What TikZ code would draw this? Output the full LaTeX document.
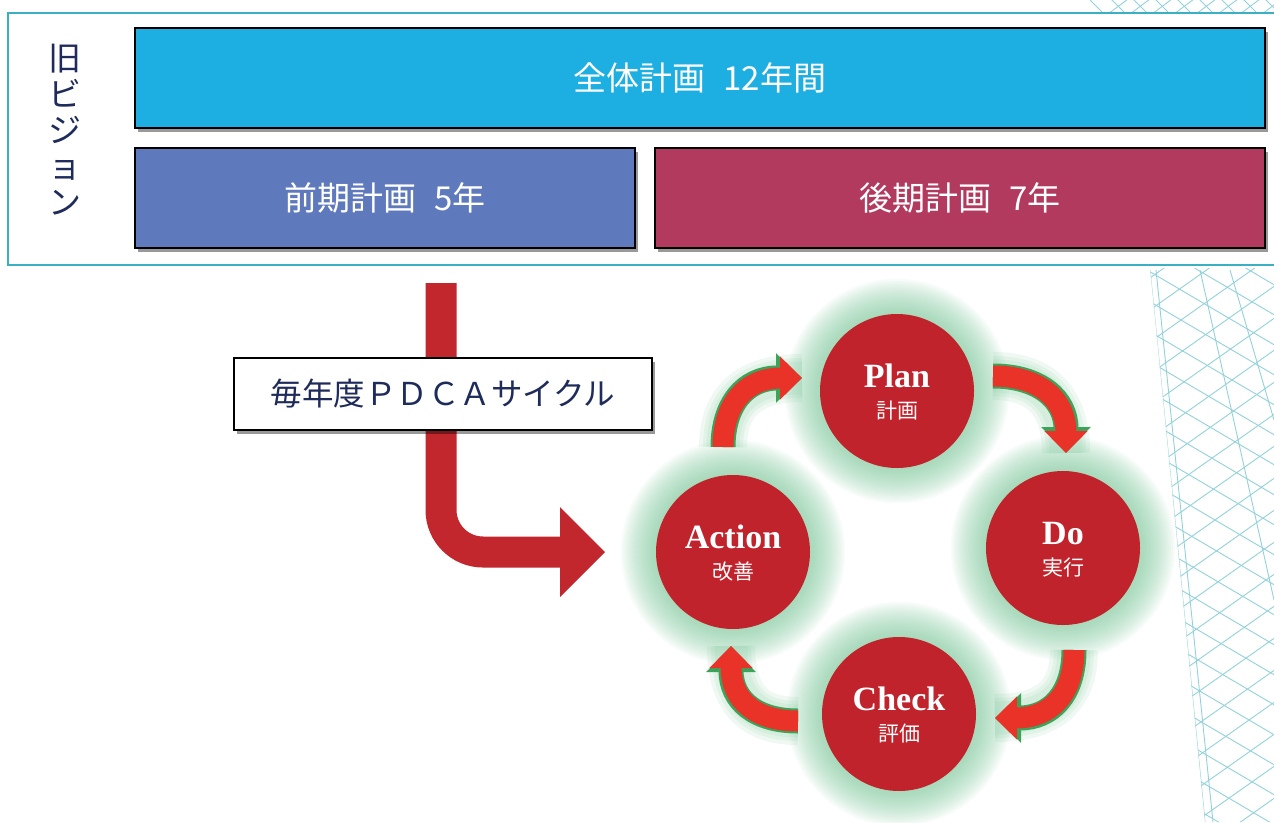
\documentclass[tikz,border=0pt]{standalone}
\usepackage{fontspec}
\newfontfamily\jp{Noto Sans CJK JP}
\newfontfamily\pdcafont{Liberation Serif}
\usetikzlibrary{shadows,arrows.meta}
\definecolor{frameteal}{HTML}{3BB0C3}
\definecolor{allblue}{HTML}{1DAEE2}
\definecolor{earlyblue}{HTML}{5F79BD}
\definecolor{latered}{HTML}{B23A5F}
\definecolor{navy}{HTML}{1E2B5B}
\definecolor{bigred}{HTML}{C1272D}
\definecolor{circred}{HTML}{C0232B}
\definecolor{cycred}{HTML}{EA3328}
\definecolor{glowgreen}{HTML}{7ECB9C}
\definecolor{edgegreen}{HTML}{3DA35A}
\definecolor{patcyan}{HTML}{92D2DC}
\tikzset{
  planbox/.style={draw=black, line width=2pt, minimum height=100pt, inner sep=0pt,
    drop shadow={shadow xshift=3pt, shadow yshift=-4pt, opacity=0.4, fill=black},
    text=white, font=\jp\fontsize{33}{38}\selectfont},
  labelbox/.style={draw=black, line width=2pt, fill=white, minimum width=418pt, minimum height=72pt,
    drop shadow={shadow xshift=3pt, shadow yshift=-4pt, opacity=0.4, fill=black},
    text=navy, font=\jp\fontsize{31.5}{36}\selectfont},
  pdca/.style={circle, fill=circred, minimum size=154pt, inner sep=0pt},
  pdcatitle/.style={anchor=base, inner sep=0pt, text=white, font=\pdcafont\bfseries\fontsize{34}{36}\selectfont},
  pdcasub/.style={inner sep=0pt, text=white, font=\jp\fontsize{21}{24}\selectfont},
  cycglow/.style={glowgreen, line width=#1, opacity=0.12},
  cycedge/.style={edgegreen, line width=25pt, -{Triangle[width=48pt,length=26pt]}},
  cycbody/.style={cycred, line width=21pt, -{Triangle[width=42pt,length=22pt]}},
  pattern line/.style={patcyan, line width=0.9pt},
}
\begin{document}
\begin{tikzpicture}[x=1pt,y=-1pt]
\clip (0,0) rectangle (1274,822);
\fill[white] (0,0) rectangle (1274,822);

% background line pattern on the right
\begin{scope}
  \clip (1150,268) -- (1274,268) -- (1274,822) -- (1205,822) -- cycle;
  \foreach \k in {0,...,22} {
    \draw[pattern line] (1130,200+\k*30) -- (1300,300+\k*30);
    \draw[pattern line] (1130,260+\k*32) -- (1300,140+\k*32);
  }
  \draw[pattern line] (1150,270) -- (1205,822);
  \draw[pattern line] (1156,270) -- (1213,822);
  \draw[pattern line] (1200,270) -- (1274,600);
  \draw[pattern line] (1230,270) -- (1274,420);
\end{scope}
\begin{scope}
  \clip (1090,0) rectangle (1274,11);
  \foreach \k in {0,...,10} {
    \draw[pattern line] (1080+\k*22,-10) -- (1110+\k*22,20);
    \draw[pattern line] (1100+\k*22,20) -- (1140+\k*22,-10);
  }
\end{scope}

% outer frame
\draw[frameteal, line width=2.5pt, fill=white] (8,13) rectangle (1290,265);

\node[font=\jp\fontsize{33}{36}\selectfont, text=navy, align=center] (oldvision) at (65,130)
  {旧\\ビ\\ジ\\ョ\\ン};

\node[planbox, fill=allblue, minimum width=1130pt] (whole) at (700,78) {全体計画\hspace{18pt}12年間};
\node[planbox, fill=earlyblue, minimum width=500pt] (early) at (385,198) {前期計画\hspace{18pt}5年};
\node[planbox, fill=latered, minimum width=610pt] (late) at (960,198) {後期計画\hspace{18pt}7年};

% big red arrow
\coordinate (bigstart) at (441,283);
\coordinate (bigbend) at (441,552);
\coordinate (bigend) at (562,552);
\draw[bigred, line width=31pt, rounded corners=42pt] (bigstart) -- (bigbend) -- (bigend);
\fill[bigred] (560,507) -- (605,552) -- (560,597) -- cycle;

\node[labelbox] (cyclelabel) at (443,394) {毎年度ＰＤＣＡサイクル};

% PDCA circle centres
\coordinate (cP) at (897,391);
\coordinate (cD) at (1063,548);
\coordinate (cC) at (899,714);
\coordinate (cA) at (733,552);

% glow
\foreach \c in {cP,cD,cC,cA} {
  \foreach \i in {1,...,16} {
    \fill[glowgreen, opacity=0.06] (\c) circle[radius={77pt+2.2pt*\i}];
  }
}

% cycle arrows
\coordinate (a1s) at (723,447);  \coordinate (a1e) at (802,378);
\coordinate (a2s) at (993,376);  \coordinate (a2e) at (1066,453);
\coordinate (a3s) at (1074,650); \coordinate (a3e) at (995,718);
\coordinate (a4s) at (798,721);  \coordinate (a4e) at (731,646);
\foreach \w in {48,40,33} {
  \draw[cycglow=\w pt] (a1s) .. controls (723,405) and (745,378) .. (a1e);
  \draw[cycglow=\w pt] (a2s) .. controls (1040,376) and (1066,400) .. (a2e);
  \draw[cycglow=\w pt] (a3s) .. controls (1074,695) and (1050,718) .. (a3e);
  \draw[cycglow=\w pt] (a4s) .. controls (755,721) and (731,700) .. (a4e);
}
\draw[cycedge] (a1s) .. controls (723,405) and (745,378) .. (a1e);
\draw[cycedge] (a2s) .. controls (1040,376) and (1066,400) .. (a2e);
\draw[cycedge] (a3s) .. controls (1074,695) and (1050,718) .. (a3e);
\draw[cycedge] (a4s) .. controls (755,721) and (731,700) .. (a4e);
\draw[cycbody] (a1s) .. controls (723,405) and (745,378) .. (a1e);
\draw[cycbody] (a2s) .. controls (1040,376) and (1066,400) .. (a2e);
\draw[cycbody] (a3s) .. controls (1074,695) and (1050,718) .. (a3e);
\draw[cycbody] (a4s) .. controls (755,721) and (731,700) .. (a4e);

% PDCA circles
\node[pdca] (plan) at (cP) {};
\node[pdca] (do) at (cD) {};
\node[pdca] (check) at (cC) {};
\node[pdca] (action) at (cA) {};
\foreach \n/\t/\s in {plan/Plan/計画, do/Do/実行, check/Check/評価, action/Action/改善} {
  \node[pdcatitle] (\n-title) at ([yshift=4pt]\n.center) {\t};
  \node[pdcasub] (\n-sub) at ([yshift=-20pt]\n.center) {\s};
}
\end{tikzpicture}
\end{document}
